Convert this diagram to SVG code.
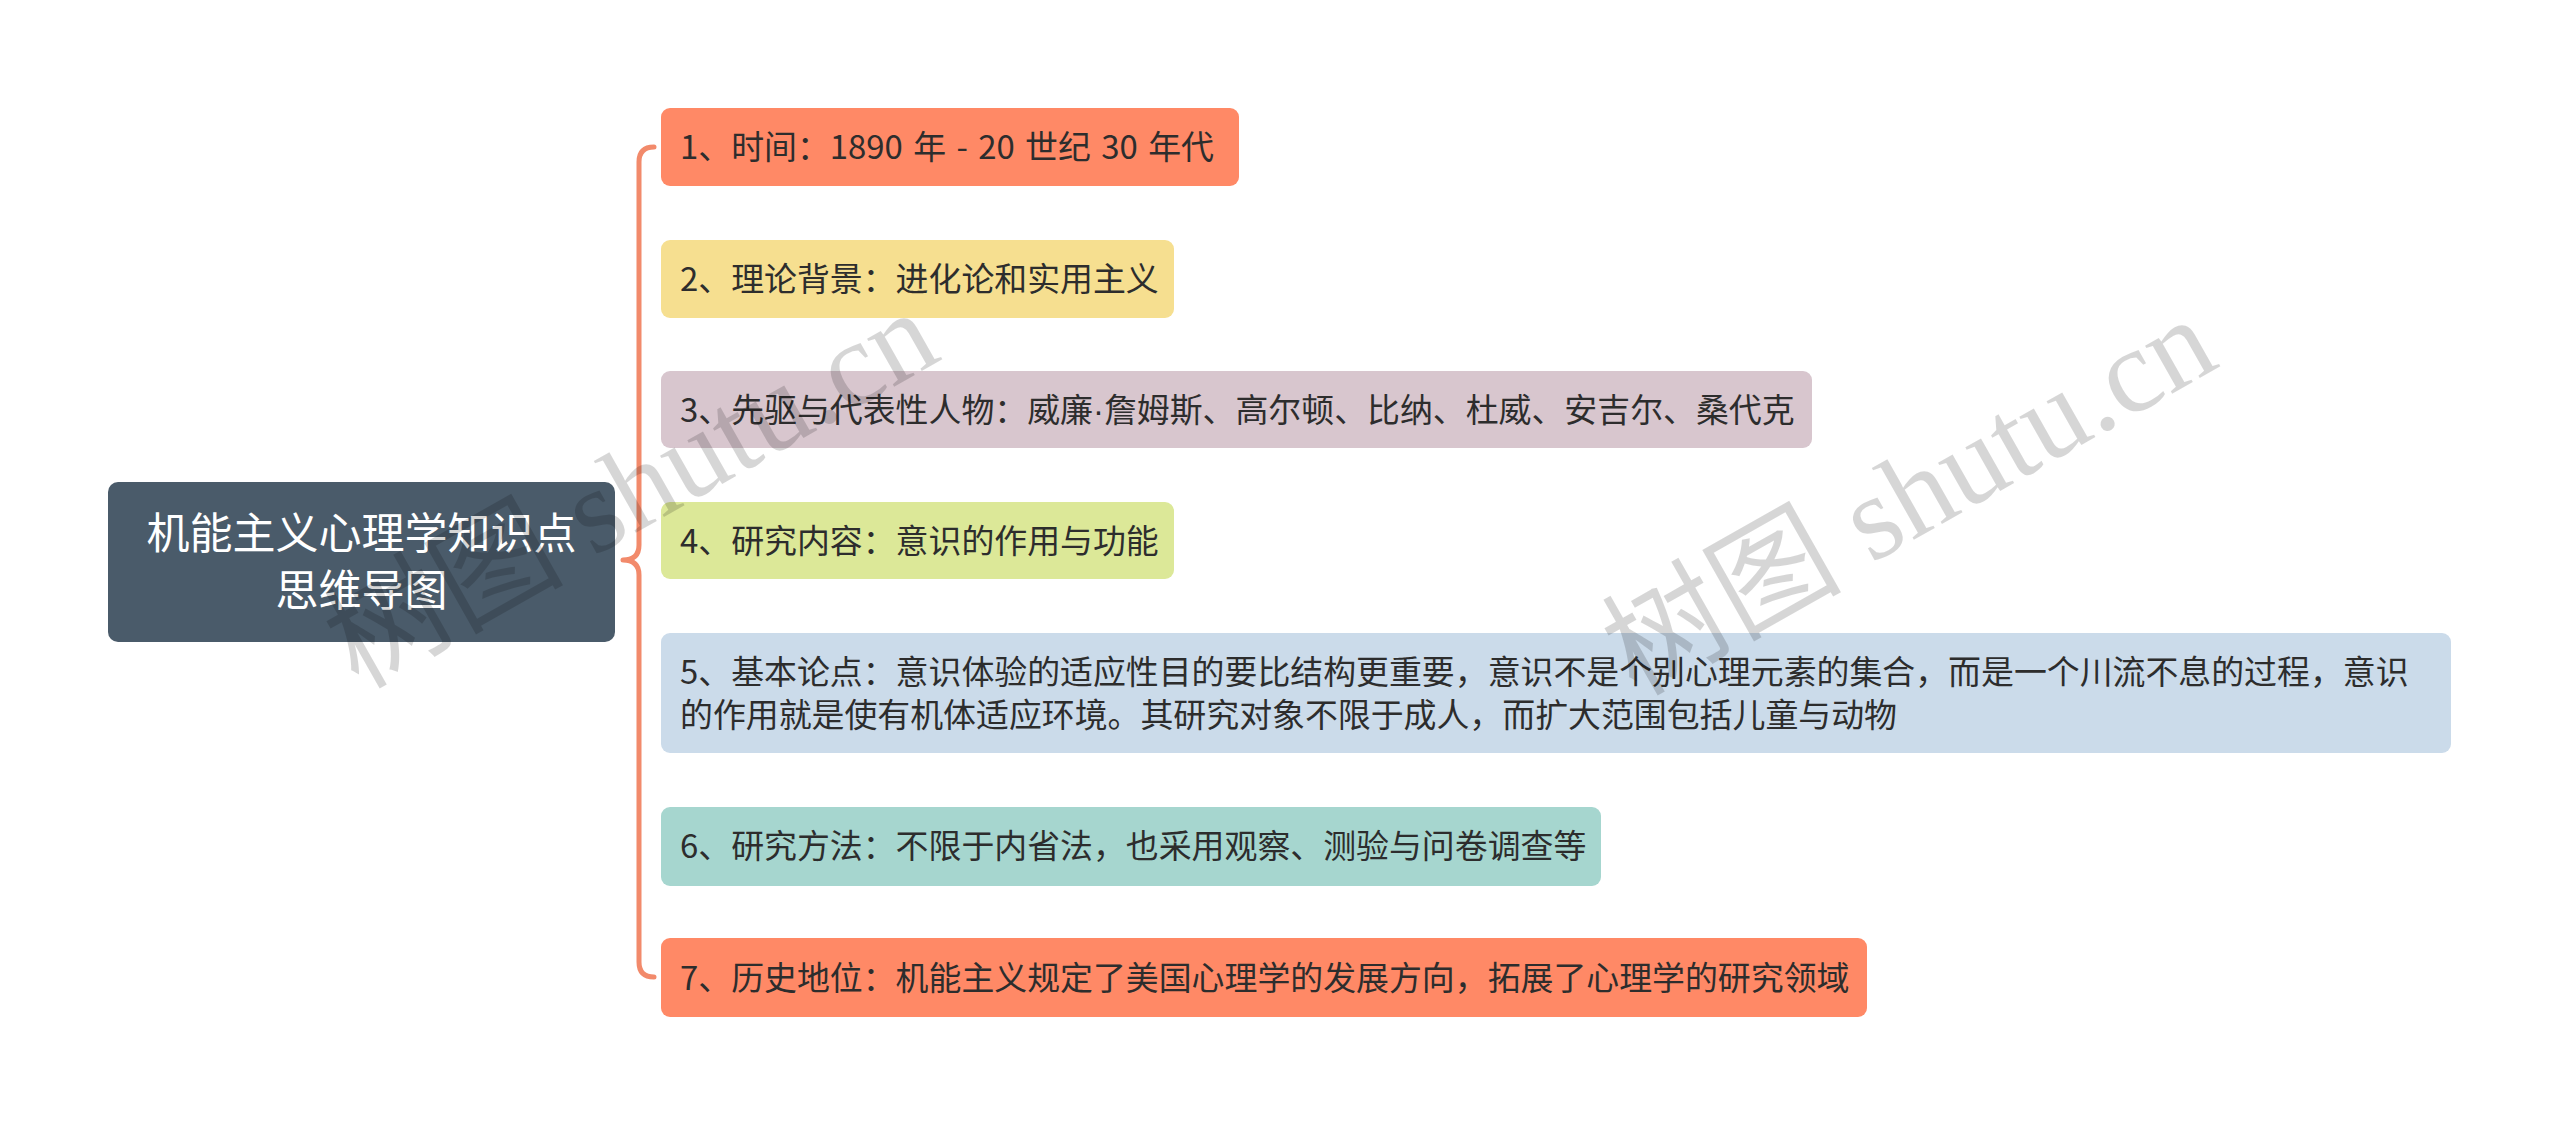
<svg xmlns="http://www.w3.org/2000/svg" width="2560" height="1125" viewBox="0 0 2560 1125">
<style>
.child{font-family:"Noto Sans CJK SC","Noto Sans",sans-serif;font-size:32.9px;fill:#2d2d2d;}
.root{font-family:"Noto Sans CJK SC","Noto Sans",sans-serif;font-size:43px;fill:#ffffff;}
.wm{font-family:"Liberation Serif","Noto Sans CJK SC",serif;font-size:120px;fill:#000000;fill-opacity:0.16;}
.conn{fill:none;stroke:#F28A6B;stroke-width:5;stroke-linecap:round;stroke-linejoin:round;}
.dot{font-family:"Liberation Sans",sans-serif;}
</style>
<rect x="0" y="0" width="2560" height="1125" fill="#ffffff"/>
<g id="connectors">
<path class="conn" d="M654,147 Q639,147 639,162 L639,545 Q639,560 623,560 Q639,560 639,575 L639,962 Q639,977 654,977"/>
</g>
<g id="root">
<rect x="108" y="482" width="507" height="160" rx="10" fill="#4A5B6A"/>
<text class="root" x="361.5" y="549" text-anchor="middle">机能主义心理学知识点</text>
<text class="root" x="361.5" y="606" text-anchor="middle">思维导图</text>
</g>
<g id="node1">
<rect x="661" y="108" width="578" height="78" rx="9" fill="#FF8966"/>
<text class="child" x="680" y="159" word-spacing="3">1、时间：1890 年 - 20 世纪 30 年代</text>
</g>
<g id="node2">
<rect x="661" y="240" width="513" height="78" rx="9" fill="#F6DF90"/>
<text class="child" x="680" y="291">2、理论背景：进化论和实用主义</text>
</g>
<g id="node3">
<rect x="661" y="371" width="1151" height="77" rx="9" fill="#D8C6CE"/>
<text class="child" x="680" y="421.5">3、先驱与代表性人物：威廉<tspan class="dot">·</tspan>詹姆斯、高尔顿、比纳、杜威、安吉尔、桑代克</text>
</g>
<g id="node4">
<rect x="661" y="502" width="513" height="77" rx="9" fill="#DCE898"/>
<text class="child" x="680" y="552.5">4、研究内容：意识的作用与功能</text>
</g>
<g id="node5">
<rect x="661" y="633" width="1790" height="120" rx="9" fill="#CBDBEA"/>
<text class="child" x="680" y="683.5">5、基本论点：意识体验的适应性目的要比结构更重要，意识不是个别心理元素的集合，而是一个川流不息的过程，意识</text>
<text class="child" x="680" y="727">的作用就是使有机体适应环境。其研究对象不限于成人，而扩大范围包括儿童与动物</text>
</g>
<g id="node6">
<rect x="661" y="807" width="940" height="79" rx="9" fill="#A6D6CF"/>
<text class="child" x="680" y="858">6、研究方法：不限于内省法，也采用观察、测验与问卷调查等</text>
</g>
<g id="node7">
<rect x="661" y="938" width="1206" height="79" rx="9" fill="#FF8966"/>
<text class="child" x="680" y="989.5">7、历史地位：机能主义规定了美国心理学的发展方向，拓展了心理学的研究领域</text>
</g>
<g id="watermarks">
<text class="wm" transform="translate(358,690) rotate(-29.5)">树图 shutu.cn</text>
<text class="wm" transform="translate(1636,697) rotate(-29.5)">树图 shutu.cn</text>
</g>
</svg>
